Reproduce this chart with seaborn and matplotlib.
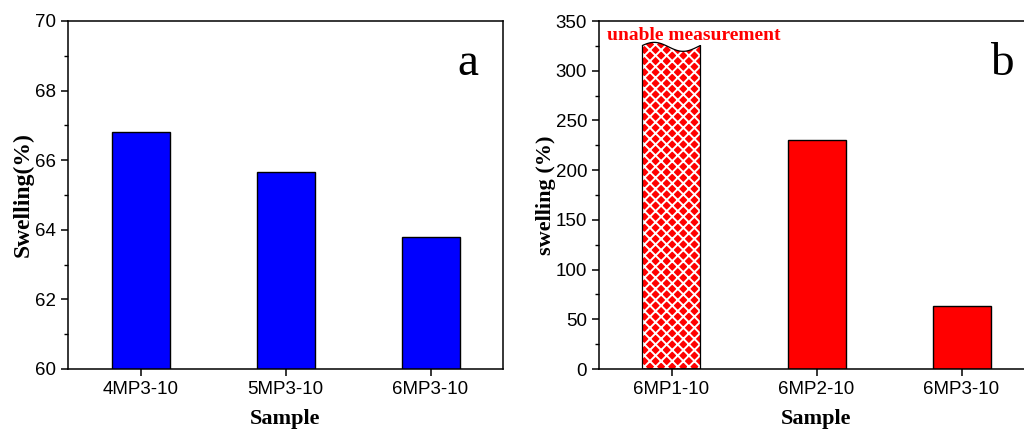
import numpy as np
import pandas as pd
import matplotlib
matplotlib.use("Agg")
import matplotlib.pyplot as plt
from matplotlib.patches import Polygon
import seaborn as sns

# data
samples_a = ["4MP3-10", "5MP3-10", "6MP3-10"]
swelling_a = [66.82, 65.66, 63.80]

samples_b = ["6MP1-10", "6MP2-10", "6MP3-10"]
swelling_b = [324, 230, 63.7]   # first one = "unable measurement"

BLUE = "#0000ff"
RED = "#ff0000"

sns.set_style("ticks")
plt.rcParams.update({
    "font.family": ["Liberation Sans", "DejaVu Sans"],
    "text.color": "black",
    "axes.labelcolor": "black",
    "axes.edgecolor": "black",
    "xtick.color": "black",
    "ytick.color": "black",
    "axes.linewidth": 1.1,
    "xtick.direction": "out",
    "ytick.direction": "out",
    "xtick.major.size": 5,
    "ytick.major.size": 5,
    "ytick.minor.size": 3,
    "xtick.major.width": 1.1,
    "ytick.major.width": 1.1,
    "ytick.minor.width": 1.0,
    "xtick.labelsize": 13.5,
    "ytick.labelsize": 13.5,
    "hatch.linewidth": 1.4,
})

SERIF = ["Liberation Serif", "DejaVu Serif"]

fig = plt.figure(figsize=(10.24, 4.29), dpi=100)
ax_a = fig.add_axes([68 / 1024, 60 / 429, 435 / 1024, 348 / 429])
ax_b = fig.add_axes([599 / 1024, 60 / 429, 435 / 1024, 348 / 429])

df_a = pd.DataFrame({"sample": samples_a, "swelling": swelling_a})
df_b = pd.DataFrame({"sample": samples_b, "swelling": swelling_b})

# ─── panel a ───
sns.barplot(data=df_a, x="sample", y="swelling", color=BLUE, saturation=1,
            width=0.4, edgecolor="black", linewidth=1.0, ax=ax_a)
ax_a.set_ylim(60, 70)
ax_a.set_xlim(-0.5, 2.5)
ax_a.set_yticks(np.arange(60, 71, 2))
ax_a.set_yticks(np.arange(61, 70, 2), minor=True)
ax_a.set_ylabel("Swelling(%)", family=SERIF, fontweight="bold", fontsize=17,
                labelpad=1)
ax_a.set_xlabel("Sample", family=SERIF, fontweight="bold", fontsize=16,
                labelpad=8)
ax_a.text(0.92, 0.845, "a", transform=ax_a.transAxes, family=SERIF,
          fontsize=34, ha="center", va="baseline")

# ─── panel b ───
sns.barplot(data=df_b, x="sample", y="swelling", color=RED, saturation=1,
            width=0.4, edgecolor="black", linewidth=1.0, ax=ax_b)
ax_b.set_ylim(0, 350)
ax_b.set_xlim(-0.5, 2.5)
ax_b.set_yticks(np.arange(0, 351, 50))
ax_b.set_yticks(np.arange(25, 350, 50), minor=True)
ax_b.set_ylabel("swelling (%)", family=SERIF, fontweight="bold", fontsize=16,
                labelpad=0)
ax_b.set_xlabel("Sample", family=SERIF, fontweight="bold", fontsize=16,
                labelpad=8)
ax_b.text(0.926, 0.845, "b", transform=ax_b.transAxes, family=SERIF,
          fontsize=34, ha="center", va="baseline")

# first bar: cross-hatched with a wavy (broken) top
bar = ax_b.patches[0]
x0, w, h = bar.get_x(), bar.get_width(), bar.get_height()
bar.set_visible(False)
t = np.linspace(0, 1, 80)
top = h + 4.5 * np.sin(2 * np.pi * (t + 0.05))
pts = np.concatenate([[[x0, 0]], np.column_stack([x0 + t * w, top]), [[x0 + w, 0]]])
ax_b.add_patch(Polygon(pts, closed=True, facecolor=RED, edgecolor="white",
                       hatch="xxx", linewidth=0, zorder=2))
ax_b.add_patch(Polygon(pts, closed=True, facecolor="none", edgecolor="black",
                       linewidth=0.9, zorder=3))
ax_b.text(0.018, 0.945, "unable measurement", transform=ax_b.transAxes,
          family=SERIF, fontweight="bold", fontsize=14, color=RED,
          ha="left", va="baseline")

for ax in (ax_a, ax_b):
    for s in ax.spines.values():
        s.set_visible(True)
        s.set_color("black")
    ax.tick_params(axis="x", which="minor", bottom=False)

fig.savefig("out.png", dpi=100)
